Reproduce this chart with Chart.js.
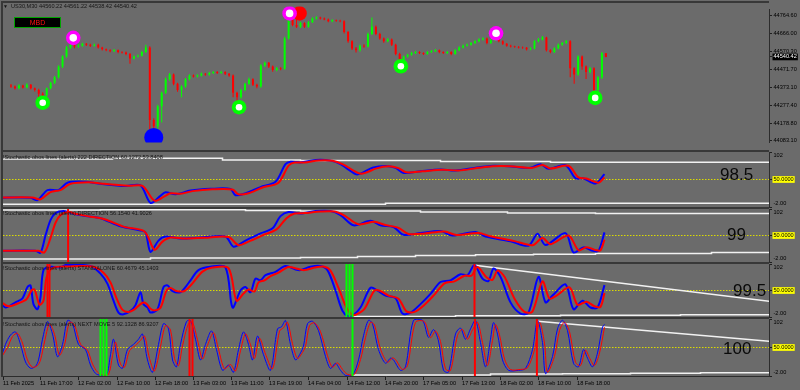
<!DOCTYPE html>
<html>
<head>
<meta charset="utf-8">
<title>US30,M30</title>
<script src="https://cdn.jsdelivr.net/npm/chart.js@4.4.1/dist/chart.umd.min.js"></script>
<style>
  html, body { margin: 0; padding: 0; background: #6b6b6b; }
  #chart { position: relative; width: 800px; height: 390px; overflow: hidden; background: #6b6b6b; font-family: "Liberation Sans", Arial, sans-serif; }
  #chart canvas { position: absolute; left: 0; }
  .rule { position: absolute; background: #383838; }
  .hdr { position: absolute; left: 3px; font-size: 5.6px; line-height: 6px; color: #151515; white-space: nowrap; }
  .big { position: absolute; font-size: 17px; line-height: 17px; color: #0a0a0a; white-space: nowrap; }
  #mbd { position: absolute; left: 14px; top: 17px; width: 45px; height: 9px; border: 1px solid #00a400; background: #000; color: #ff1010; font-size: 7px; line-height: 9px; text-align: center; }
</style>
</head>
<body>
<div id="chart">
  <canvas id="price" width="800" height="152" style="top:0px"></canvas>
  <canvas id="st1" width="800" height="59" style="top:150px"></canvas>
  <canvas id="st2" width="800" height="57" style="top:207px"></canvas>
  <canvas id="st3" width="800" height="57" style="top:262px"></canvas>
  <canvas id="st4" width="800" height="73" style="top:317px"></canvas>

  <div class="rule" style="left:1px;top:1px;width:768px;height:2px"></div>
  <div class="rule" style="left:1px;top:1px;width:2px;height:376px"></div>
  <div class="rule" style="left:1px;top:150px;width:768px;height:2px"></div>
  <div class="rule" style="left:1px;top:207px;width:768px;height:2px"></div>
  <div class="rule" style="left:1px;top:262px;width:768px;height:2px"></div>
  <div class="rule" style="left:1px;top:317px;width:768px;height:2px"></div>

  <div class="hdr" style="top:2.8px;left:3px;font-size:5px">▼</div>
  <div class="hdr" style="top:2.8px;left:11px">US30,M30 44560.22 44561.22 44538.42 44540.42</div>
  <div id="mbd">MBD</div>
  <div class="hdr" style="top:153.5px">!Stochastic obos lines (alerts) 222 DIRECTION 60.1272 53.8408</div>
  <div class="hdr" style="top:210.3px">!Stochastic obos lines (alerts) DIRECTION 56.1540 41.9026</div>
  <div class="hdr" style="top:265.3px">!Stochastic obos lines (alerts) STANDALONE 60.4679 45.1403</div>
  <div class="hdr" style="top:320.8px">!Stochastic obos lines (alerts) NEXT MOVE 5 92.1328 86.9207</div>
  <div class="big" style="left:720px;top:166px">98.5</div>
  <div class="big" style="left:727px;top:225.5px">99</div>
  <div class="big" style="left:733px;top:281.5px">99.5</div>
  <div class="big" style="left:723px;top:339.5px">100</div>
</div>

<script>
// ---- price data (one entry per candle) ----
const opens = [44384,44379,44369,44384,44374,44389,44369,44360,44340,44330,
  44369,44399,44429,44488,44542,44592,44607,44597,44602,44612,
  44607,44602,44607,44592,44582,44577,44572,44577,44567,44565,
  44557,44532,44542,44547,44567,44592,44196,44162,44271,44345,
  44419,44444,44394,44360,44379,44419,44439,44434,44439,44448,
  44444,44453,44458,44453,44458,44448,44439,44345,44320,44360,
  44394,44419,44389,44379,44493,44508,44488,44469,44478,44476,
  44641,44745,44715,44705,44725,44705,44730,44750,44755,44750,
  44745,44735,44740,44738,44735,44676,44626,44587,44577,44602,
  44597,44666,44705,44666,44641,44626,44636,44607,44557,44518,
  44542,44552,44562,44567,44562,44557,44567,44572,44577,44567,
  44562,44567,44557,44577,44592,44602,44607,44616,44626,44636,
  44641,44616,44631,44651,44626,44612,44602,44597,44595,44592,
  44590,44582,44587,44626,44636,44646,44577,44567,44587,44607,
  44616,44626,44478,44444,44542,44488,44458,44478,44360,44429,
  44560];
const closes = [44379,44369,44384,44374,44389,44369,44360,44340,44330,44369,
  44399,44429,44488,44542,44592,44607,44597,44602,44612,44607,
  44602,44607,44592,44582,44577,44572,44577,44567,44565,44557,
  44532,44542,44547,44567,44592,44196,44162,44271,44345,44419,
  44444,44394,44360,44379,44419,44439,44434,44439,44448,44444,
  44453,44458,44453,44458,44448,44439,44345,44320,44360,44394,
  44419,44389,44379,44493,44508,44488,44469,44478,44476,44641,
  44745,44715,44705,44725,44705,44730,44750,44755,44750,44745,
  44735,44740,44738,44735,44676,44626,44587,44577,44602,44597,
  44666,44705,44666,44641,44626,44636,44607,44557,44518,44542,
  44552,44562,44567,44562,44557,44567,44572,44577,44567,44562,
  44567,44557,44577,44592,44602,44607,44616,44626,44636,44641,
  44616,44631,44651,44626,44612,44602,44597,44595,44592,44590,
  44582,44587,44626,44636,44646,44577,44567,44587,44607,44616,
  44626,44478,44444,44542,44488,44458,44478,44360,44429,44560,
  44540];
const highs = [44392,44385,44391,44389,44396,44393,44374,44366,44348,44374,
  44405,44436,44495,44550,44600,44641,44614,44610,44618,44617,
  44612,44613,44612,44596,44587,44582,44583,44581,44572,44570,
  44562,44548,44553,44574,44607,44598,44205,44280,44352,44428,
  44452,44450,44400,44386,44426,44446,44445,44446,44455,44453,
  44460,44464,44463,44465,44462,44453,44444,44350,44366,44400,
  44428,44424,44394,44500,44515,44513,44493,44485,44484,44650,
  44789,44752,44789,44732,44730,44737,44757,44762,44760,44755,
  44750,44746,44745,44743,44740,44682,44632,44594,44608,44609,
  44674,44755,44712,44672,44646,44643,44641,44612,44563,44548,
  44558,44568,44573,44572,44566,44573,44578,44583,44581,44572,
  44573,44571,44583,44598,44608,44613,44622,44632,44642,44648,
  44646,44637,44676,44656,44631,44617,44607,44602,44600,44597,
  44595,44593,44632,44643,44654,44651,44582,44593,44613,44622,
  44633,44631,44484,44550,44548,44494,44486,44484,44436,44567,
  44561];
const lows = [44372,44362,44364,44368,44370,44362,44352,44300,44295,44322,
  44364,44392,44422,44480,44536,44585,44588,44591,44596,44600,
  44595,44597,44586,44576,44571,44566,44567,44561,44559,44550,
  44503,44526,44537,44542,44562,44122,44098,44140,44182,44338,
  44410,44386,44350,44320,44372,44412,44428,44428,44433,44438,
  44438,44447,44447,44448,44442,44432,44320,44271,44312,44354,
  44388,44382,44370,44372,44486,44480,44460,44462,44468,44470,
  44635,44708,44698,44698,44698,44700,44725,44745,44744,44740,
  44730,44730,44732,44729,44668,44618,44578,44565,44570,44590,
  44592,44660,44658,44634,44618,44620,44600,44550,44488,44512,
  44536,44547,44557,44556,44551,44552,44562,44567,44561,44556,
  44557,44550,44552,44572,44587,44597,44602,44611,44620,44630,
  44610,44611,44626,44620,44606,44596,44592,44590,44587,44585,
  44576,44577,44582,44620,44630,44570,44560,44562,44582,44602,
  44611,44429,44394,44438,44470,44420,44450,44320,44352,44420,
  44538];
const lastClose = 44540.42;

// price axis labels
const priceTicks = [44764.60, 44666.00, 44570.30, 44540.42, 44471.70, 44373.10, 44277.40, 44178.80, 44083.10];
const priceMin = 44073.3, priceMax = 44799.2;

// arrow markers [candle position, price]
const lowMarks = [[8, 44290.6], [57.5, 44265.9], [98.3, 44489.6], [147.3, 44316.8]];
const highMarks = [[15.7, 44644.6], [70.25, 44778], [122.3, 44669.3]];
const sellMarks = [[72.75, 44778]];
const buyMarks = [[36, 44100.5]];

// time axis
const timeTickPos = [-0.37, 8.88, 18.38, 28.13, 37.63, 47.13, 56.63, 66.13, 75.88, 85.63, 95.13, 104.63, 114.38, 123.88, 133.38, 143.13];
const timeTickLabels = ['11 Feb 2025', '11 Feb 17:00', '12 Feb 02:00', '12 Feb 10:00', '12 Feb 18:00', '13 Feb 03:00',
  '13 Feb 11:00', '13 Feb 19:00', '14 Feb 04:00', '14 Feb 12:00', '14 Feb 20:00', '17 Feb 05:00',
  '17 Feb 13:00', '18 Feb 02:00', '18 Feb 10:00', '18 Feb 18:00'];

// stochastic panels
const stochMin = -2, stochMax = 102, midLevel = 50;
const stochTicks = [102, 50, -2];
const stochTickText = ['102', '50.0000', '-2.00'];

const p1Main = [[-1,15.6],[6.5,15.6],[8.25,11],[10.75,30],[13.5,30],[15.75,44],[20.25,45.7],[24,42],[30.25,37.7],[34,39],
  [36.5,5.7],[39,19],[40.25,25.7],[42.75,22],[46.5,29],[51.5,32.3],[56.5,32],[57.75,20.3],[60.25,23.7],[64,35.7],
  [67.75,45.7],[70.25,79],[71.5,83.7],[74,82.3],[77.75,87],[81.5,85.7],[84,79],[87.75,60.3],[89,61],[92,72.3],
  [95.25,75.7],[97.75,72],[99.75,62.3],[104,65.7],[109,69],[112.75,67],[117.75,72.3],[121.5,75.7],[126,75],[131.5,72],
  [134,79],[136,70.3],[140.25,77],[142.75,52.3],[144.75,52],[147.75,42.3],[150,60.1]];
const p1Signal = [[-1,16],[7,16],[9,12.5],[11.5,26],[14,30],[16.5,42],[21,45],[24.5,42],[31,38],[34.5,38],
  [37.5,10],[40,18],[41.5,24],[44,23],[47,28],[52,31.5],[57,31],[58.5,22],[61,24],[64.5,35],
  [68.5,44],[71,76],[72.5,82],[75,82],[78.5,86],[82,85.5],[84.5,79],[88.5,62],[90,62],[93,71],
  [96,75],[98.5,71.5],[100.5,63.5],[104.5,65.5],[109.5,68.5],[113.5,67],[118.5,72],[122,75],[126.5,75],[132,72],
  [134.5,77.5],[136.5,71],[141,76],[143.5,54],[145.5,52],[148.5,44],[150,53.8]];
const p1Top = [[-1,88.8],[27,90],[54.5,86.9],[74,86],[109,84],[136.5,82.5],[192,82.5]];
const p1Bottom = [[-1,3],[95.25,5],[192,5]];

const p2Main = [[-1,20],[7.75,20],[9,16],[10.25,50],[11.5,80],[12.75,94],[14.75,98],[16.5,94],[20.25,88],[24,84],
  [29,68],[34,60],[35.25,56],[36.5,18],[38.5,40],[40.25,48],[44,44],[49,46],[55.25,48],[57.25,28],
  [60.25,40],[64,54],[67,64],[69,88],[71,96],[74,93.3],[77.75,98],[81.5,98],[84,90],[87.25,70],
  [91.5,78.7],[94,70],[97.25,66.7],[99.75,51.3],[104,54.7],[109,58.7],[112,50],[117.75,56.7],[120.25,48],[126.5,38.7],
  [131,30],[133.25,53.3],[135.25,31.3],[140.25,54.7],[142.25,16.7],[144.75,26.7],[147,20],[148.5,20],[150,56.2]];
const p2Signal = [[-1,20],[8.5,20],[10,17],[11.5,45],[12.75,75],[14,90],[16,96],[18,92],[21.5,87],[25,82],
  [30,67],[35,58],[37.5,22],[39.5,38],[41.5,46],[45,44],[50,45.5],[56,47],[58.5,31],[61,38],
  [65,52],[68,62],[70.5,84],[72.5,93],[75,94],[79,97],[82.5,97],[85,89],[88.5,72],[92.5,77],
  [95,71],[98.5,65],[101,53],[105,54],[110,58],[113,51],[118.5,55],[121.5,48.5],[127.5,39],[132,31],
  [134.5,45],[136.5,33],[141,50],[143.5,21],[145.5,27],[148,21],[149,21],[150,41.9]];
const p2Top = [[-1,100],[24,100.5],[60.25,99],[74,98],[104,96],[125.75,94],[147.75,93.4],[192,93.4]];
const p2Bottom = [[-1,4],[36.5,6],[74,6.6],[88.25,8.6],[102.75,10.6],[117.75,12],[132.25,13.4],[147.75,14.6],[176.75,16.6],[192,16.6]];

const p3Main = [[-1,26.7],[0.25,16.7],[2.75,26.7],[4.5,34.7],[5.75,56.7],[6.5,60],[7.25,23.3],[8.25,13.3],[9,36.7],[9.75,90],
  [11.5,96.7],[14,95],[15.25,100],[21.5,98],[24,83],[25.75,63],[27.25,30],[28.5,6.7],[29.75,3.3],[31.5,10],
  [32.75,21.3],[34,46.7],[34.75,23],[35.75,16.7],[36.5,6.7],[38.25,13.3],[39.75,56.7],[40.75,60],[42,48.7],[44,46.7],
  [45.25,56.7],[46.5,70],[48.5,90],[51.5,96.7],[55.25,95.3],[57,16.7],[59,50],[60.25,56.7],[61.5,46.7],[62.75,73.3],
  [64,70],[65.25,80],[67.75,86.7],[70.25,98],[72.75,91.3],[74,90],[76.5,96.7],[79,98],[80.75,90],[82.75,50],
  [84.5,10],[86,-1],[87.25,2],[89,16.7],[91.5,55.3],[93.25,50],[95.25,40],[97.75,35],[99.5,4.7],[101.5,6.7],
  [104,23.3],[106.5,43.3],[109,66.7],[111.5,70],[114,82],[115.75,80],[117.5,100],[119.5,73.3],[121,68.7],[122.25,93.3],
  [124,76.7],[126.5,26.7],[129,4.7],[131,6.7],[133.5,76.7],[135.25,26.7],[137,40],[140.25,62],[142.25,13.3],[144.5,30],
  [146.5,16.7],[148.25,16.7],[150,60.5]];
const p3Signal = [[-1,28],[1,19],[3.5,25],[5.5,33],[6.75,50],[7.5,52],[8.75,22],[9.75,30],[10.5,75],[12,94],
  [16,97],[22,97],[24.75,85],[26.5,66],[28,35],[29.5,12],[31,8],[32.5,13],[34.5,26],[35.5,24],
  [36.5,14],[37.5,11],[39,16],[40.5,50],[41.5,55],[43,49],[45,49],[47,64],[49.5,87],[52,95],
  [56,94],[58,30],[59.75,44],[61,52],[62.5,48],[63.5,66],[65,70],[66.5,78],[68.5,85],[71,96],
  [73.5,92],[75,90],[77.5,95],[79.75,97],[81.5,89],[83.5,55],[85.5,16],[87,2],[88,3],[90,14],
  [92.5,50],[94,49],[96,40],[98.5,34],[100.5,9],[102.5,8],[105,22],[107.5,42],[110,64],[112.5,68],
  [115,79],[116.75,79],[118.25,96],[120.5,76],[122,71],[123.25,89],[125,77],[127.5,34],[130,8],[132,9],
  [134.5,68],[136.25,34],[138,40],[141.25,56],[143.25,22],[145.5,28],[147.5,19],[149,18],[150,45.1]];
const p3Top = [[117.5,99.4],[192,28]];
const p3Bottom = [[87,-1],[112.75,0.5],[139,1.5],[169,2.5],[192,2.5]];

const p4Main = [[-1,27.3],[0.25,55.7],[1.5,72.7],[2.75,78.4],[4,55.7],[5.25,23.6],[6.5,12.2],[7.75,15.6],[8.5,27.3],[9.5,65.1],
  [10.75,97.3],[12,74.6],[13.25,33],[14.5,55.7],[15.75,99.2],[17,93.5],[18.5,55.7],[20.25,46.2],[21.5,17.9],[22.75,2.8],
  [24,-1],[25.5,-1],[26.5,36.8],[27.25,65.1],[28.5,17.9],[29.5,12.2],[30.75,46.2],[32.25,55.7],[33.5,65.1],[34.5,74.6],
  [35.75,27.3],[37,4.7],[38.5,55.7],[39.75,93.5],[41,84],[42,27.3],[43,14.7],[44,55.7],[45.5,97.3],[46.5,99.2],
  [47.75,65.1],[49,27.3],[50.25,55.7],[51.75,80.3],[53,46.2],[54.5,8.4],[56,17.9],[57.25,4.7],[58.5,46.2],[59.75,78.4],
  [61,55.7],[62,27.3],[63.25,70.8],[64.75,36.8],[66.5,8.4],[68.25,84],[69.25,87.8],[70.25,99.2],[71.5,55.7],[72.75,27.3],
  [74,40],[74.75,52.5],[75.75,93.5],[77,97.8],[78.5,80.8],[80.25,33.6],[81.5,11.7],[82.75,21.1],[84,8.4],[85.25,-1],
  [87,-1],[88.5,27.3],[89.75,71.4],[91,99.7],[92,93.5],[93.5,46.2],[95.25,21.1],[96.5,30.6],[97.25,27.3],[99,8.4],
  [100.25,14.7],[102.25,99.7],[104.5,99.7],[106,68.4],[107.25,82.7],[108.5,62],[109.75,8.4],[111,5.2],[112.75,74.6],[114,85.4],
  [115.25,65.1],[116.5,84],[117.75,99.7],[119,58.9],[120.25,14.7],[121.5,65.1],[122.25,95.4],[123.25,74.6],[124.5,27.3],[126,8.4],
  [128.5,8.4],[130.25,11.7],[132,46.2],[133.25,99.7],[134.5,58.9],[135.25,2.2],[137,33.6],[138.25,84],[139.5,99.7],[140.75,80.8],
  [142.25,21.1],[143.5,14.7],[144.75,46.2],[145.75,30.6],[147,14.7],[148.25,40],[149.5,87.3],[150,92.1]];
const p4Signal = [[-1,30],[0.75,50],[2,70],[3.25,76],[4.5,58],[5.75,27],[7,14],[8.25,17],[9,27],[10,60],
  [11.25,93],[12.5,74],[13.75,36],[15,55],[16.25,96],[17.5,91],[19,56],[20.75,45],[22,20],[23.25,5],
  [24.5,0],[26,1],[27,35],[27.75,60],[29,20],[30,14],[31.25,44],[32.75,54],[34,63],[35,71],
  [36.25,30],[37.5,7],[39,52],[40.25,90],[41.5,82],[42.5,30],[43.5,17],[44.5,53],[46,94],[47,96],
  [48.25,64],[49.5,29],[50.75,54],[52.25,77],[53.5,47],[55,11],[56.5,19],[57.75,7],[59,44],[60.25,75],
  [61.5,55],[62.5,30],[63.75,67],[65.25,38],[67,11],[68.75,80],[69.75,86],[70.75,96],[72,57],[73.25,30],
  [74.5,41],[75.25,52],[76.25,90],[77.5,95],[79,79],[80.75,35],[82,14],[83.25,22],[84.5,10],[85.75,1],
  [87.5,1],[89,28],[90.25,68],[91.5,96],[92.5,91],[94,47],[95.75,23],[97,31],[97.75,28],[99.5,10],
  [100.75,17],[102.75,96],[105,97],[106.5,68],[107.75,80],[109,61],[110.25,11],[111.5,8],[113.25,72],[114.5,83],
  [115.75,65],[117,82],[118.25,96],[119.5,59],[120.75,17],[122,63],[122.75,92],[123.75,73],[125,29],[126.5,10],
  [129,10],[130.75,13],[132.5,46],[133.75,96],[135,58],[135.75,5],[137.5,34],[138.75,81],[140,96],[141.25,79],
  [142.75,23],[144,17],[145.25,45],[146.25,31],[147.5,17],[148.75,40],[150,86.9]];
const p4Top = [[133.25,98],[192,61]];
const p4Bottom = [[87,-0.2],[121.5,1.5],[139.5,2.2],[156.5,2.9],[174,3.9],[192,3.9]];

// alert bars (candle positions)
const p2RedBars = [15.9];
const p3RedBars = [10.75, 11.25, 117.5];
const p3GreenBars = [85.5, 86.25, 87];
const p4RedBars = [46.25, 47, 117.6, 133.1];
const p4GreenBars = [24, 24.75, 25.5, 87];

// ---- chart setup ----
const FONT = '"Liberation Sans", Arial, sans-serif';
const SMALL = 5.6;
const xMin = -0.375, xMax = 191.125;
const GREEN = '#00ff00', RED = '#ff0000', BLUE = '#0000ff';

Chart.defaults.font.family = FONT;

function toXY(pairs) {
  return pairs.map(p => ({ x: p[0], y: p[1] }));
}

function baseOptions(padTop, padBottom, scales) {
  return {
    responsive: false,
    animation: false,
    devicePixelRatio: 1,
    events: [],
    layout: { padding: { left: 3, right: 0, top: padTop, bottom: padBottom } },
    plugins: { legend: { display: false }, tooltip: { enabled: false }, title: { display: false } },
    scales: scales
  };
}

function timeAxis(show) {
  if (!show) return { type: 'linear', min: xMin, max: xMax, offset: false, bounds: 'data', display: false };
  return {
    type: 'linear', min: xMin, max: xMax, offset: false, bounds: 'data',
    afterBuildTicks: s => { s.ticks = timeTickPos.map(v => ({ value: v })); },
    afterFit: s => { s.height = 14; s.paddingLeft = 0; s.paddingRight = 0; },
    ticks: {
      autoSkip: false, maxRotation: 0, minRotation: 0, align: 'start', padding: 0,
      color: '#000', font: { size: SMALL },
      callback: (v, i) => timeTickLabels[i]
    },
    grid: { offset: false, drawOnChartArea: false, drawTicks: true, tickLength: 4, color: '#1e1e1e' },
    border: { display: true, color: '#2c2c2c', width: 1 }
  };
}

function rightAxis(min, max, values, labelFn, boxFn, textFn) {
  return {
    position: 'right', min: min, max: max, bounds: 'data',
    afterBuildTicks: s => { s.ticks = values.map(v => ({ value: v })); },
    afterFit: s => { s.width = 31; s.paddingTop = 0; s.paddingBottom = 0; },
    ticks: {
      autoSkip: false, padding: 1.5,
      font: { size: SMALL },
      color: textFn,
      callback: labelFn,
      showLabelBackdrop: ctx => boxFn(ctx.tick.value) !== null,
      backdropColor: ctx => boxFn(ctx.tick.value) || 'rgba(0,0,0,0)',
      backdropPadding: { x: 1, y: 0 }
    },
    grid: { drawOnChartArea: false, tickLength: 3, color: '#1e1e1e' },
    border: { display: true, color: '#2c2c2c', width: 1 }
  };
}

// ---- price panel ----
const candleIdx = closes.map((c, i) => i);
const candleColors = candleIdx.map(i => closes[i] >= opens[i] ? GREEN : RED);

function marker(pairs, color, radius, order) {
  return {
    type: 'line', showLine: false, data: toXY(pairs),
    pointRadius: radius, pointBackgroundColor: color, pointBorderWidth: 0,
    clip: { left: 10, right: 10, top: 3, bottom: 0 }, order: order
  };
}

new Chart(document.getElementById('price'), {
  type: 'line',
  data: {
    datasets: [
      marker(lowMarks, '#ffffff', 3.3, 0),
      marker(lowMarks, GREEN, 7.3, 1),
      marker(highMarks, '#ffffff', 3.8, 0),
      marker(highMarks, '#ff00ff', 7.3, 1),
      marker(sellMarks, RED, 7.3, 2),
      marker(buyMarks, BLUE, 9.5, 2),
      {
        type: 'bar', data: candleIdx.map(i => ({ x: i, y: [opens[i], closes[i]] })),
        backgroundColor: candleColors, barThickness: 2, grouped: false, inflateAmount: 0, borderWidth: 0, order: 5
      },
      {
        type: 'bar', data: candleIdx.map(i => ({ x: i, y: [lows[i], highs[i]] })),
        backgroundColor: candleColors, barThickness: 1, grouped: false, inflateAmount: 0, borderWidth: 0, order: 6
      }
    ]
  },
  options: baseOptions(3, 2, {
    x: timeAxis(false),
    y: rightAxis(priceMin, priceMax, priceTicks,
      v => v.toFixed(2),
      v => v === lastClose ? '#000000' : null,
      ctx => ctx.tick.value === lastClose ? '#ffffff' : '#000000')
  })
});

// ---- stochastic panels ----
function stochLine(pairs, color, width, order) {
  return { type: 'line', data: toXY(pairs), borderColor: color, borderWidth: width, pointRadius: 0, tension: 0.3, order: order };
}
function levelLine(pairs, stepped) {
  return { type: 'line', data: toXY(pairs), borderColor: '#f2f2f2', borderWidth: 1.5, pointRadius: 0, stepped: stepped, order: 7 };
}
function alertBars(at, color) {
  return {
    type: 'bar', data: at.map(x => ({ x: x, y: [stochMin, stochMax] })),
    backgroundColor: color, barThickness: 2, grouped: false, inflateAmount: 0, borderWidth: 0, order: 0
  };
}

function stochPanel(id, cfg) {
  const datasets = [];
  cfg.bars.forEach(b => datasets.push(alertBars(b[0], b[1])));
  datasets.push(stochLine(cfg.signal, RED, cfg.width, 1));
  datasets.push(stochLine(cfg.main, BLUE, cfg.width, 2));
  cfg.levels.forEach(l => datasets.push(levelLine(l[0], l[1])));
  datasets.push({
    type: 'line', data: [{ x: xMin, y: midLevel }, { x: xMax, y: midLevel }],
    borderColor: '#dcdc00', borderWidth: 1, borderDash: [1.5, 1.5], pointRadius: 0, order: 9
  });
  return new Chart(document.getElementById(id), {
    type: 'line',
    data: { datasets: datasets },
    options: baseOptions(2, cfg.time ? 0 : 2, {
      x: timeAxis(cfg.time),
      y: rightAxis(stochMin, stochMax, stochTicks,
        (v, i) => i === 0 ? ['', stochTickText[i]] : i === 2 ? [stochTickText[i], ''] : stochTickText[i],
        v => v === midLevel ? '#ffff00' : null,
        () => '#000000')
    })
  });
}

stochPanel('st1', { main: p1Main, signal: p1Signal, width: 2, bars: [],
  levels: [[p1Top, true], [p1Bottom, true]] });
stochPanel('st2', { main: p2Main, signal: p2Signal, width: 2, bars: [[p2RedBars, RED]],
  levels: [[p2Top, true], [p2Bottom, true]] });
stochPanel('st3', { main: p3Main, signal: p3Signal, width: 2, bars: [[p3RedBars, RED], [p3GreenBars, GREEN]],
  levels: [[p3Top, false], [p3Bottom, true]] });
stochPanel('st4', { main: p4Main, signal: p4Signal, width: 1, time: true, bars: [[p4RedBars, RED], [p4GreenBars, GREEN]],
  levels: [[p4Top, false], [p4Bottom, true]] });
</script>
</body>
</html>
